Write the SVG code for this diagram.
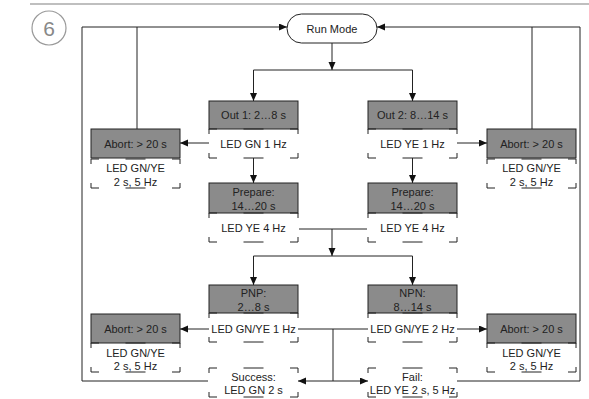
<svg xmlns="http://www.w3.org/2000/svg" xmlns:xlink="http://www.w3.org/1999/xlink" width="589" height="399" viewBox="0 0 589 399">
<style>
text{font-family:"Liberation Sans",Arial,sans-serif;font-size:11px;fill:#222;text-anchor:middle}
.g{fill:#8b8b8b;stroke:#222;stroke-width:1}
.d{fill:none;stroke:#222;stroke-width:1}
.c{fill:none;stroke:#222;stroke-width:1}
.a{marker-end:url(#ah)}
</style>
<defs>
<marker id="ah" markerUnits="userSpaceOnUse" markerWidth="9" markerHeight="8" refX="8" refY="3.5" orient="auto">
<path d="M0,0 L8,3.5 L0,7 z" fill="#111"/>
</marker>
<path id="dash" class="d" d="M0,5 V0 H8 M81,0 H89 V5 M0,24 V29 H8 M81,29 H89 V24 M34.5,0 H54.5 M34.5,29 H54.5"/>
</defs>

<line x1="30" y1="4" x2="589" y2="4" stroke="#aaa" stroke-width="1.5"/>
<g id="step">
<circle cx="49" cy="28" r="17" fill="none" stroke="#999" stroke-width="1.2"/>
<text x="49" y="35.5" style="font-size:21px;fill:#888">6</text>
</g>

<g id="connectors">
<path class="c a" d="M208,381 H82 V27 H287"/>
<path class="c" d="M137,129 V27"/>
<path class="c a" d="M457,381 H580 V27 H377"/>
<path class="c" d="M532,129 V27"/>
<path class="c a" d="M332,43 V70"/>
<path class="c a" d="M332,70 H253.5 V101"/>
<path class="c a" d="M332,70 H412.5 V101"/>
<path class="c a" d="M209,143 H180"/>
<path class="c a" d="M457,143 H487"/>
<path class="c a" d="M253.5,158 V183"/>
<path class="c a" d="M412.5,158 V183"/>
<path class="c" d="M299,229 H367"/>
<path class="c a" d="M332,229 V256"/>
<path class="c a" d="M332,256 H253.5 V285"/>
<path class="c a" d="M332,256 H412.5 V285"/>
<path class="c a" d="M209,329 H180"/>
<path class="c a" d="M457,329 H487"/>
<path class="c" d="M298,329 H368"/>
<path class="c" d="M333,329 V381"/>
<path class="c a" d="M333,381 H298"/>
<path class="c a" d="M333,381 H368"/>
</g>

<g id="run-mode">
<rect x="287" y="14" width="90" height="29" rx="14.5" fill="#fff" stroke="#222"/>
<text x="332" y="33">Run Mode</text>
</g>

<g id="out1">
<rect class="g" x="209" y="101" width="89" height="28"/>
<text x="253.5" y="119">Out 1: 2…8 s</text>
<use xlink:href="#dash" x="209" y="129"/>
<text x="253.5" y="148">LED GN 1 Hz</text>
</g>

<g id="out2">
<rect class="g" x="368" y="101" width="89" height="28"/>
<text x="412.5" y="119">Out 2: 8…14 s</text>
<use xlink:href="#dash" x="368" y="129"/>
<text x="412.5" y="148">LED YE 1 Hz</text>
</g>

<g id="abort-tl">
<rect class="g" x="91" y="129" width="89" height="29"/>
<text x="135.5" y="148">Abort: &gt; 20 s</text>
<use xlink:href="#dash" x="91" y="159"/>
<text x="135.5" y="172">LED GN/YE</text>
<text x="135.5" y="186">2 s, 5 Hz</text>
</g>

<g id="abort-tr">
<rect class="g" x="487" y="129" width="89" height="29"/>
<text x="531.5" y="148">Abort: &gt; 20 s</text>
<use xlink:href="#dash" x="487" y="159"/>
<text x="531.5" y="172">LED GN/YE</text>
<text x="531.5" y="186">2 s, 5 Hz</text>
</g>

<g id="prepare1">
<rect class="g" x="209" y="183" width="89" height="30"/>
<text x="253.5" y="196">Prepare:</text>
<text x="253.5" y="210">14…20 s</text>
<use xlink:href="#dash" x="209" y="213"/>
<text x="253.5" y="232">LED YE 4 Hz</text>
</g>

<g id="prepare2">
<rect class="g" x="368" y="183" width="89" height="30"/>
<text x="412.5" y="196">Prepare:</text>
<text x="412.5" y="210">14…20 s</text>
<use xlink:href="#dash" x="368" y="213"/>
<text x="412.5" y="232">LED YE 4 Hz</text>
</g>

<g id="pnp">
<rect class="g" x="209" y="285" width="89" height="28"/>
<text x="253.5" y="297">PNP:</text>
<text x="253.5" y="311">2…8 s</text>
<use xlink:href="#dash" x="209" y="313"/>
<text x="253.5" y="333">LED GN/YE 1 Hz</text>
</g>

<g id="npn">
<rect class="g" x="368" y="285" width="89" height="28"/>
<text x="412.5" y="297">NPN:</text>
<text x="412.5" y="311">8…14 s</text>
<use xlink:href="#dash" x="368" y="313"/>
<text x="412.5" y="333">LED GN/YE 2 Hz</text>
</g>

<g id="abort-bl">
<rect class="g" x="91" y="314" width="89" height="29"/>
<text x="135.5" y="333">Abort: &gt; 20 s</text>
<use xlink:href="#dash" x="91" y="343"/>
<text x="135.5" y="357">LED GN/YE</text>
<text x="135.5" y="370">2 s, 5 Hz</text>
</g>

<g id="abort-br">
<rect class="g" x="487" y="314" width="89" height="29"/>
<text x="531.5" y="333">Abort: &gt; 20 s</text>
<use xlink:href="#dash" x="487" y="343"/>
<text x="531.5" y="357">LED GN/YE</text>
<text x="531.5" y="370">2 s, 5 Hz</text>
</g>

<g id="success">
<use xlink:href="#dash" x="209" y="368"/>
<text x="253.5" y="381">Success:</text>
<text x="253.5" y="394">LED GN 2 s</text>
</g>

<g id="fail">
<use xlink:href="#dash" x="368" y="368"/>
<text x="412.5" y="381">Fail:</text>
<text x="412.5" y="394">LED YE 2 s, 5 Hz</text>
</g>
</svg>
